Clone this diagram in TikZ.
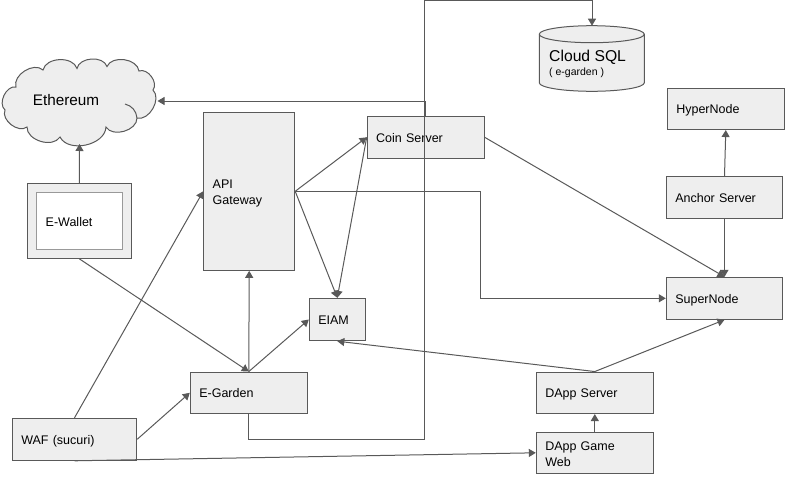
\documentclass[tikz,border=0pt]{standalone}
\usepackage{fontspec}
\setmainfont{Liberation Sans}
\usetikzlibrary{arrows.meta}

\definecolor{boxfill}{HTML}{EEEEEE}
\definecolor{boxline}{HTML}{595959}
\definecolor{innerline}{HTML}{999999}

\tikzset{
  box/.style={draw=boxline,fill=boxfill,line width=1pt,inner xsep=9pt,inner ysep=0pt,
    align=left,font=\fontsize{12.5}{16}\selectfont,
    execute at begin node={\rule[-2pt]{0pt}{14pt}},
    text width=99pt,minimum height=41.5pt},
  outline/.style={draw=boxline,fill=boxfill,line width=1pt},
  conn/.style={draw=boxline,line width=1pt,-{Triangle[length=7pt,width=8pt]}}
}

\begin{document}
\begin{tikzpicture}[x=1pt,y=-1pt]
  \useasboundingbox (0,0) rectangle (785,477);

  % cloud outline
  \path [outline,bend left=75] (5,110) to (16,87) to (43,70) to (77,68.5) to (107,66.5) to (139,71)
    to (153,90) to (137,118) to (106,127) to (60,137) to (27,127) to (5,110) -- cycle;
  \draw [draw=boxline,line width=1pt,bend left=35] (125,104) to (137,118);
  \node (Ethereum) [inner sep=0pt,font=\fontsize{15.3}{18}\selectfont] at (66,100.5) {Ethereum};
  \coordinate (EthereumEast) at (157.5,101);
  \coordinate (EthereumSouth) at (79.5,144);

  % left column
  \node (EWallet) [box,text width=86pt,minimum height=75pt] at (79.3,220.8) {};
  \node (EWalletIn) [box,fill=white,draw=innerline,line width=1.5pt,text width=67.6pt,minimum height=56.6pt] at (79.5,221) {E-Wallet};
  \node (WAF) [box,text width=106.4pt,minimum height=42pt] at (74.5,439.3) {WAF (sucuri)};

  % middle
  \node (API) [box,text width=73pt,minimum height=158pt] at (249.2,191.3) {API\\Gateway};
  \node (EGarden) [box] at (248.8,392.8) {E-Garden};
  \node (EIAM) [box,text width=38pt,minimum height=42.4pt] at (337.3,319.5) {EIAM};
  \node (Coin) [box,minimum height=42pt] at (425.7,137.3) {Coin Server};

  % right side
  \path [outline] (539.3,34.2) arc[start angle=180,end angle=0,x radius=52.5pt,y radius=8.5pt]
    -- (644.3,82.8) arc[start angle=0,end angle=-180,x radius=52.5pt,y radius=8.5pt] -- cycle;
  \draw [draw=boxline,line width=1pt] (539.3,34.2) arc[start angle=180,end angle=360,x radius=52.5pt,y radius=8.5pt];
  \node (CloudSQL) [align=left,inner sep=0pt,anchor=north west] at (549,49.5)
    {{\fontsize{15.7}{18}\selectfont Cloud SQL}\\[2pt]{\fontsize{10.5}{12}\selectfont ( e-garden )}};
  \coordinate (SqlTop) at (592,25.7);
  \node (HyperNode) [box] at (725.8,108.8) {HyperNode};
  \node (Anchor) [box,node distance=88.7pt,below of=HyperNode,xshift=-1.3pt,text width=98.4pt] {Anchor Server};
  \node (SuperNode) [box,node distance=100.8pt,below of=Anchor,text width=98.4pt,minimum height=42pt] {SuperNode};
  \node (DAppServer) [box] at (594.8,392.8) {DApp Server};
  \node (DAppGame) [box,node distance=60pt,below of=DAppServer] {DApp Game\\Web};

  % bends
  \coordinate (SqlLow) at (424,439);
  \coordinate (SqlHigh) at (424,0.5);
  \coordinate (GatewayBend) at (480,298.3);

  \draw [conn] (EWallet.north) -- (EthereumSouth);
  \draw [conn] (EWallet.south) -- (EGarden.north);
  \draw [conn] (WAF.north) -- (API.west);
  \draw [conn] (WAF.east) -- (EGarden.west);
  \draw [conn] (WAF.south) -- (DAppGame.west);
  \draw [conn] (EGarden.north) -- (API.south);
  \draw [conn] (EGarden.north) -- (EIAM.west);
  \draw [conn] (EGarden.south) |- (SqlLow) -- (SqlHigh) -| (SqlTop);
  \draw [conn] (Coin.north) |- (EthereumEast);
  \draw [conn] (API.east) -- (Coin.west);
  \draw [conn] (API.east) -- (EIAM.north);
  \draw [conn] (API.east) -| (GatewayBend) -- (SuperNode.west);
  \draw [conn] (Coin.west) -- (EIAM.north);
  \draw [conn] (Coin.east) -- (SuperNode.north);
  \draw [conn] (Anchor.south) -- (SuperNode.north);
  \draw [conn] (Anchor.north) -- (HyperNode.south);
  \draw [conn] (DAppServer.north) -- (SuperNode.south);
  \draw [conn] (DAppServer.north) -- (EIAM.south);
  \draw [conn] (DAppGame.north) -- (DAppServer.south);
\end{tikzpicture}
\end{document}
